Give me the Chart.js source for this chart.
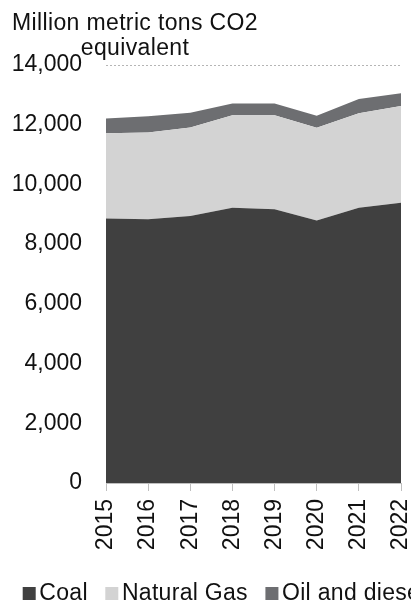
<!DOCTYPE html>
<html>
<head>
<meta charset="utf-8">
<script src="https://cdn.jsdelivr.net/npm/chart.js@4"></script>
<style>
  html, body { margin: 0; padding: 0; background: #fff; overflow: hidden; }
  #wrap { position: relative; width: 411px; height: 602px; }
</style>
</head>
<body>
<div id="wrap"><canvas id="chart"></canvas></div>
<script>
'use strict';

// Chart data.
const years = ['2015', '2016', '2017', '2018', '2019', '2020', '2021', '2022'];
const coal = [8860, 8830, 8940, 9220, 9170, 8790, 9220, 9390];
const naturalGas = [2850, 2910, 2970, 3100, 3150, 3110, 3160, 3240];
const oilDiesel = [500, 545, 490, 390, 390, 400, 480, 425];
const yTicks = [0, 2000, 4000, 6000, 8000, 10000, 12000, 14000];
const axisTitle = ['Million metric tons CO2', 'equivalent'];
const seriesNames = ['Coal', 'Natural Gas', 'Oil and diesel'];
const seriesColors = ['#404040', '#d3d3d3', '#6d6e71'];

const FONT = "'Liberation Sans', Arial, sans-serif";
const FONT_SIZE = 23;
const TEXT_COLOR = '#111';

Chart.defaults.font.family = FONT;
Chart.defaults.font.size = FONT_SIZE;
Chart.defaults.color = TEXT_COLOR;

// Axis title written horizontally above the plot, two centred lines.
const axisTitlePlugin = {
  id: 'axisTitle',
  afterDraw(chart) {
    const ctx = chart.ctx;
    ctx.save();
    ctx.font = FONT_SIZE + 'px ' + FONT;
    ctx.letterSpacing = '0.35px';
    ctx.fillStyle = TEXT_COLOR;
    ctx.textAlign = 'center';
    ctx.textBaseline = 'alphabetic';
    ctx.fillText(axisTitle[0], 135, 30);
    ctx.fillText(axisTitle[1], 135, 55);
    ctx.restore();
  }
};

// Legend on one row at the bottom; it runs past the right edge like the original.
const bottomLegendPlugin = {
  id: 'bottomLegend',
  afterDraw(chart) {
    const ctx = chart.ctx;
    ctx.save();
    ctx.font = FONT_SIZE + 'px ' + FONT;
    ctx.letterSpacing = '0.3px';
    ctx.textBaseline = 'alphabetic';
    ctx.textAlign = 'left';
    let x = 22.7;
    chart.data.datasets.forEach(ds => {
      ctx.fillStyle = ds.backgroundColor;
      ctx.fillRect(x, 587, 13, 13);
      ctx.fillStyle = TEXT_COLOR;
      ctx.fillText(ds.label, x + 16.6, 600);
      x += 16.6 + ctx.measureText(ds.label).width + 17.5;
    });
    ctx.restore();
  }
};

function makeDataset(i, values) {
  return {
    label: seriesNames[i],
    data: values,
    backgroundColor: seriesColors[i],
    borderColor: seriesColors[i],
    borderWidth: 0,
    pointRadius: 0,
    pointHoverRadius: 0,
    tension: 0,
    fill: i === 0 ? 'origin' : '-1'
  };
}

const chartEl = document.querySelector('canvas#chart');

new Chart(chartEl, {
  type: 'line',
  data: {
    labels: years,
    datasets: [
      makeDataset(0, coal),
      makeDataset(1, naturalGas),
      makeDataset(2, oilDiesel)
    ]
  },
  options: {
    responsive: true,
    maintainAspectRatio: false,
    animation: false,
    devicePixelRatio: 1,
    layout: { padding: { top: 65, right: 10, bottom: 0, left: 0 } },
    plugins: {
      legend: { display: false },
      tooltip: { enabled: false },
      title: { display: false }
    },
    scales: {
      x: {
        offset: false,
        ticks: {
          autoSkip: false,
          maxRotation: 90,
          minRotation: 90,
          padding: 8,
          color: TEXT_COLOR
        },
        grid: {
          drawOnChartArea: false,
          drawTicks: true,
          tickLength: 8,
          color: '#bfbfbf'
        },
        border: { display: true, color: '#bfbfbf' },
        afterFit(s) {
          s.height = 119;
          s.paddingLeft = 0;
          s.paddingRight = 0;
        }
      },
      y: {
        stacked: true,
        min: 0,
        max: 14000,
        afterBuildTicks(s) {
          s.ticks = yTicks.map(v => ({ value: v }));
        },
        ticks: {
          padding: 24,
          color: TEXT_COLOR,
          callback: v => v.toLocaleString('en-US')
        },
        grid: {
          drawTicks: false,
          color: ctx => (ctx.tick && ctx.tick.value === 14000) ? '#b5b5b5' : 'rgba(0,0,0,0)'
        },
        border: { display: false, dash: [2, 2] },
        afterFit(s) {
          s.width = 106;
          s.paddingTop = 0;
          s.paddingBottom = 0;
        }
      }
    }
  },
  plugins: [axisTitlePlugin, bottomLegendPlugin]
});
</script>
</body>
</html>
